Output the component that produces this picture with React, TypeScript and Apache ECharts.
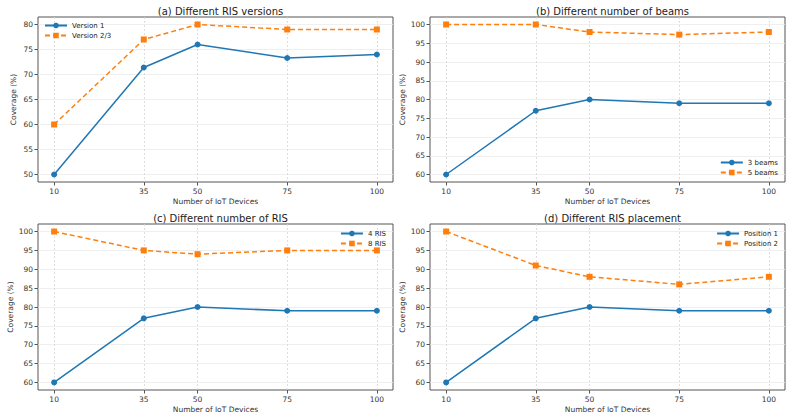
import React, { useEffect, useRef } from "react";
import * as echarts from "echarts";

// IoT device counts on the x axis
const devices = [10, 35, 50, 75, 100];

// (a) Different RIS versions
const version1 = [50, 71.4, 76, 73.3, 74];
const version23 = [60, 77, 80, 79, 79];

// (b) Different number of beams
const beams3 = [60, 77, 80, 79, 79];
const beams5 = [100, 100, 98, 97.3, 98];

// (c) Different number of RIS
const ris4 = [60, 77, 80, 79, 79];
const ris8 = [100, 95, 94, 95, 95];

// (d) Different RIS placement
const position1 = [60, 77, 80, 79, 79];
const position2 = [100, 91, 88, 86, 88];

const yTicksA = [50, 55, 60, 65, 70, 75, 80];
const yTicksB = [60, 65, 70, 75, 80, 85, 90, 95, 100];

const BLUE = "#1f77b4";
const ORANGE = "#ff7f0e";
const FONT = "DejaVu Sans";

type Panel = {
  title: string;
  names: [string, string];
  a: number[];
  b: number[];
  yMin: number;
  yMax: number;
  yTicks: number[];
  grid: { left: number; top: number; width: number; height: number };
  legend: Record<string, number | string>;
};

const panels: Panel[] = [
  {
    title: "(a) Different RIS versions",
    names: ["Version 1", "Version 2/3"],
    a: version1,
    b: version23,
    yMin: 48.5,
    yMax: 81.5,
    yTicks: yTicksA,
    grid: { left: 38, top: 17, width: 355, height: 165 },
    legend: { left: 42, top: 20 },
  },
  {
    title: "(b) Different number of beams",
    names: ["3 beams", "5 beams"],
    a: beams3,
    b: beams5,
    yMin: 58,
    yMax: 102,
    yTicks: yTicksB,
    grid: { left: 430, top: 17, width: 355, height: 165 },
    legend: { right: 16, top: 157 },
  },
  {
    title: "(c) Different number of RIS",
    names: ["4 RIS", "8 RIS"],
    a: ris4,
    b: ris8,
    yMin: 58,
    yMax: 102,
    yTicks: yTicksB,
    grid: { left: 38, top: 224, width: 355, height: 166 },
    legend: { right: 408, top: 228 },
  },
  {
    title: "(d) Different RIS placement",
    names: ["Position 1", "Position 2"],
    a: position1,
    b: position2,
    yMin: 58,
    yMax: 102,
    yTicks: yTicksB,
    grid: { left: 430, top: 224, width: 355, height: 166 },
    legend: { right: 16, top: 228 },
  },
];

function buildOption() {
  const grids: any[] = [];
  const xAxes: any[] = [];
  const yAxes: any[] = [];
  const series: any[] = [];
  const titles: any[] = [];
  const legends: any[] = [];

  panels.forEach((p, i) => {
    grids.push({
      left: p.grid.left,
      top: p.grid.top,
      width: p.grid.width,
      height: p.grid.height,
      show: true,
      borderColor: "#555",
      borderWidth: 1,
      backgroundColor: "transparent",
    });
    titles.push({
      text: p.title,
      left: p.grid.left + p.grid.width / 2,
      top: p.grid.top - 16,
      textAlign: "center",
      textStyle: { fontFamily: FONT, fontSize: 10, fontWeight: "normal", color: "#222" },
    });
    xAxes.push({
      type: "value",
      gridIndex: i,
      min: 5.5,
      max: 104.5,
      name: "Number of IoT Devices",
      nameLocation: "middle",
      nameGap: 15,
      nameTextStyle: { fontFamily: FONT, fontSize: 7.5, color: "#333" },
      axisLine: { show: false },
      axisTick: { show: true, length: 3.5, customValues: devices, lineStyle: { color: "#555" } },
      axisLabel: {
        customValues: devices,
        fontFamily: FONT,
        fontSize: 7.5,
        color: "#333",
        margin: 5,
      },
      splitLine: { show: true, lineStyle: { color: "#d6d6d6", type: [2, 2], width: 0.8 } },
    });
    yAxes.push({
      type: "value",
      gridIndex: i,
      min: p.yMin,
      max: p.yMax,
      name: "Coverage (%)",
      nameLocation: "middle",
      nameRotate: 90,
      nameGap: 21,
      nameTextStyle: { fontFamily: FONT, fontSize: 7.5, color: "#333" },
      axisLine: { show: false },
      axisTick: { show: true, length: 3.5, customValues: p.yTicks, lineStyle: { color: "#555" } },
      axisLabel: {
        customValues: p.yTicks,
        fontFamily: FONT,
        fontSize: 7.5,
        color: "#333",
        margin: 5,
      },
      splitLine: { show: true, lineStyle: { color: "#ebebeb", width: 0.8 } },
    });
    series.push({
      id: `s${i}a`,
      name: p.names[0],
      type: "line",
      xAxisIndex: i,
      yAxisIndex: i,
      data: devices.map((d, k) => [d, p.a[k]]),
      symbol: "circle",
      symbolSize: 6,
      lineStyle: { color: BLUE, width: 1.5 },
      itemStyle: { color: BLUE },
    });
    series.push({
      id: `s${i}b`,
      name: p.names[1],
      type: "line",
      xAxisIndex: i,
      yAxisIndex: i,
      data: devices.map((d, k) => [d, p.b[k]]),
      symbol: "rect",
      symbolSize: 6,
      lineStyle: { color: ORANGE, width: 1.5, type: [5, 3] },
      itemStyle: { color: ORANGE },
    });
    legends.push({
      ...p.legend,
      orient: "vertical",
      data: p.names,
      itemWidth: 22,
      itemHeight: 7,
      itemGap: 3,
      padding: 2,
      textStyle: { fontFamily: FONT, fontSize: 7, color: "#222" },
      selectedMode: false,
    });
  });

  return {
    animation: false,
    backgroundColor: "#ffffff",
    title: titles,
    legend: legends,
    grid: grids,
    xAxis: xAxes,
    yAxis: yAxes,
    series,
  };
}

export default function App() {
  const ref = useRef<HTMLDivElement>(null);
  useEffect(() => {
    if (!ref.current) return;
    const chart = echarts.init(ref.current, undefined, { renderer: "svg" });
    chart.setOption(buildOption() as any);
    return () => chart.dispose();
  }, []);
  return <div ref={ref} style={{ width: 796, height: 417, position: "absolute", left: 0, top: 0 }} />;
}
